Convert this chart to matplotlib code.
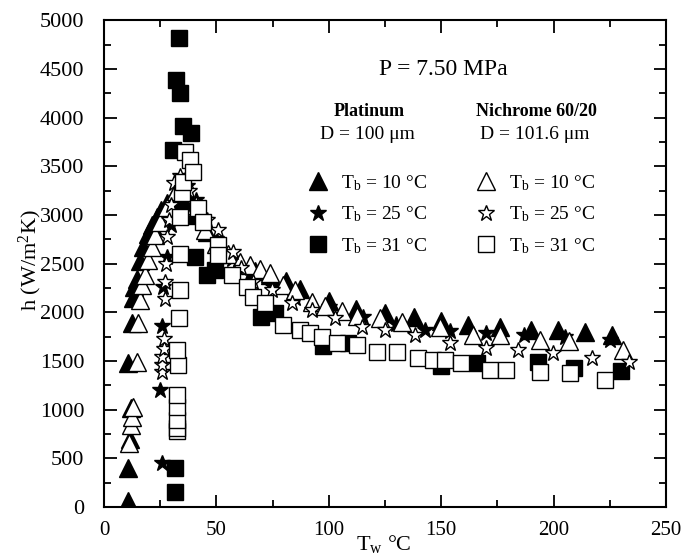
import matplotlib
matplotlib.use("Agg")
import matplotlib.pyplot as plt

plt.rcParams["font.family"] = ["Liberation Serif", "DejaVu Serif"]
plt.rcParams["mathtext.fontset"] = "custom"
plt.rcParams["mathtext.rm"] = "Liberation Serif"
plt.rcParams["mathtext.it"] = "Liberation Serif:italic"
plt.rcParams["mathtext.bf"] = "Liberation Serif:bold"

# Platinum, Tb = 10 C (filled triangles)
pt10_T = [10.7, 10.7, 11.5, 11.8, 10.5, 12.3, 12.7, 13.5, 14.5, 15.8, 17.5, 19.5, 21.5,
          23.5, 25.5, 28, 31, 35, 40, 46, 53, 60, 67, 74, 81, 87, 100, 112, 125, 138,
          150, 162, 176, 190, 202, 214, 226]
pt10_h = [60, 400, 700, 1020, 1480, 1890, 2150, 2260, 2340, 2530, 2670, 2800, 2900,
          2980, 3050, 3120, 3200, 3150, 3000, 2820, 2620, 2500, 2420, 2380, 2320, 2240,
          2120, 2030, 1990, 1950, 1910, 1870, 1850, 1820, 1820, 1800, 1770]

# Platinum, Tb = 25 C (filled stars)
pt25_T = [25.8, 25.0, 26.0, 26.2, 28, 30, 33, 37, 41, 45, 50, 57, 65, 75, 85, 100,
          115, 130, 143, 154, 170, 187, 205, 225]
pt25_h = [450, 1200, 1860, 2260, 2570, 2900, 3150, 3300, 3150, 2950, 2750, 2550, 2400,
          2260, 2150, 2050, 1950, 1880, 1820, 1810, 1790, 1770, 1750, 1720]

# Platinum, Tb = 31 C (filled squares)
pt31_T = [31.6, 31.6, 30.7, 32.0, 33.8, 33.4, 35.0, 38.5, 40.5, 45.8, 49.4, 70, 76,
          97.5, 108.5, 150, 166, 193, 209, 230]
pt31_h = [150, 400, 3670, 4390, 4255, 4820, 3910, 3840, 2570, 2385, 2430, 1950, 1990,
          1650, 1685, 1450, 1480, 1490, 1430, 1400]

# Nichrome 60/20, Tb = 10 C (open triangles)
ni10_T = [11, 12, 12.5, 12.9, 14.7, 15, 16, 17, 18.2, 19.6, 21.3, 22.7, 25, 28, 32, 36,
          41, 45, 50, 55, 60.5, 65, 69.4, 73.8, 79.6, 85, 92.5, 98.3, 106, 112.5, 122.8,
          132.6, 149.5, 164, 176, 194, 207, 231]
ni10_h = [660, 845, 925, 1030, 1490, 1890, 2130, 2280, 2380, 2540, 2670, 2790, 2930,
          3080, 3250, 3350, 3100, 2850, 2700, 2600, 2520, 2490, 2440, 2400, 2280, 2230,
          2110, 2060, 2010, 1960, 1940, 1900, 1850, 1770, 1770, 1720, 1700, 1610]

# Nichrome 60/20, Tb = 25 C (open stars)
ni25_T = [26, 26, 26, 26.5, 26.5, 27, 27, 27.5, 28, 29, 30, 31, 34, 38, 42, 46, 50.7,
          57.4, 61, 66.3, 74.7, 83.6, 92.5, 102.8, 114.8, 125, 138.3, 154, 170, 184,
          199.7, 217, 233.5]
ni25_h = [1390, 1460, 1540, 1620, 1725, 2140, 2310, 2500, 2770, 2950, 3100, 3330, 3400,
          3250, 3100, 2950, 2850, 2620, 2450, 2310, 2230, 2100, 2020, 1940, 1850, 1820,
          1770, 1685, 1635, 1610, 1580, 1530, 1490]

# Nichrome 60/20, Tb = 31 C (open squares)
ni31_T = [32.5, 32.5, 32.5, 32.5, 32.5, 33, 32.5, 33.4, 33.8, 33.8, 33.8, 34.7, 35, 36,
          38.3, 39.6, 41.8, 44, 50.7, 50.7, 57, 63.6, 66.3, 71.6, 79.6, 87, 91.6, 97,
          103.6, 112.5, 121.4, 130.3, 139.7, 146.4, 151.7, 159, 171.7, 179, 194, 207.3,
          222.9]
ni31_h = [780, 812, 894, 1028, 1151, 1460, 1614, 1942, 2230, 2600, 2980, 3227, 3340,
          3650, 3566, 3443, 3073, 2930, 2693, 2590, 2384, 2261, 2158, 2096, 1870, 1819,
          1788, 1747, 1685, 1665, 1593, 1593, 1531, 1510, 1510, 1480, 1408, 1408, 1387,
          1377, 1305]

fig = plt.figure(figsize=(6.81, 5.60), dpi=100)
ax = fig.add_axes([0.1527, 0.0946, 0.8253, 0.8694])

filled = dict(color="black", mec="black", linestyle="none", mew=1.0)
hollow = dict(color="black", mfc="white", mec="black", linestyle="none", mew=1.0)

ax.plot(pt10_T, pt10_h, marker="^", ms=12.5, label=r"T$_\mathrm{b}$ = 10 °C", **filled)
ax.plot(pt25_T, pt25_h, marker="*", ms=12, label=r"T$_\mathrm{b}$ = 25 °C", **filled)
ax.plot(pt31_T, pt31_h, marker="s", ms=11, label=r"T$_\mathrm{b}$ = 31 °C", **filled)
ax.plot(ni10_T, ni10_h, marker="^", ms=12.5, label=r"T$_\mathrm{b}$ = 10 °C", **hollow)
ax.plot(ni25_T, ni25_h, marker="*", ms=12, label=r"T$_\mathrm{b}$ = 25 °C", **hollow)
ax.plot(ni31_T, ni31_h, marker="s", ms=11, label=r"T$_\mathrm{b}$ = 31 °C", **hollow)

ax.set_xlim(0, 250)
ax.set_ylim(0, 5000)
ax.set_xticks(range(0, 251, 50))
ax.set_xticks(range(0, 251, 25), minor=True)
ax.set_yticks(range(0, 5001, 500))
ax.set_yticks(range(0, 5001, 250), minor=True)
ax.tick_params(which="both", direction="in", top=True, right=True, width=1.3)
ax.tick_params(axis="y", labelsize=16)
ax.tick_params(axis="x", labelsize=15)
ax.tick_params(which="major", length=9)
ax.tick_params(axis="y", which="major", pad=14)
ax.tick_params(axis="x", which="major", pad=10)
ax.tick_params(which="minor", length=5)
for s in ax.spines.values():
    s.set_linewidth(1.5)

fig.text(0.045, 0.536, r"h (W/m$^\mathrm{2}$K)", rotation=90, ha="center", va="center", fontsize=16)
fig.text(0.564, 0.028, r"T$_\mathrm{w}$ °C", ha="center", va="center", fontsize=16)

ax.text(151, 4490, "P = 7.50 MPa", ha="center", va="center", fontsize=17)
ax.text(118, 4060, "Platinum", ha="center", va="center", fontsize=13, fontweight="bold")
ax.text(117, 3823, "D = 100 μm", ha="center", va="center", fontsize=14)
ax.text(192.5, 4060, "Nichrome 60/20", ha="center", va="center", fontsize=13, fontweight="bold")
ax.text(191.5, 3823, "D = 101.6 μm", ha="center", va="center", fontsize=14)

ax.legend(ncol=2, loc="upper left", bbox_to_anchor=(0.36, 0.686), frameon=False,
          fontsize=14, handlelength=1.2, handletextpad=0.6, columnspacing=2.4,
          labelspacing=0.61, borderpad=0, borderaxespad=0)

fig.savefig("out.png", dpi=100)
